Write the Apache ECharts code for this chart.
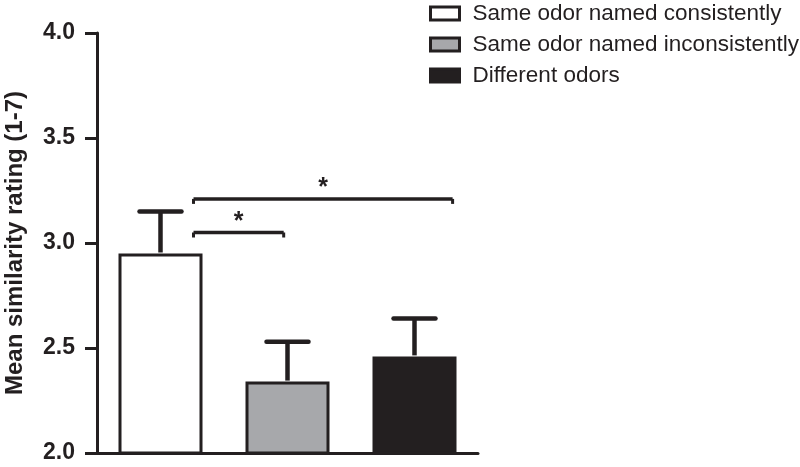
<!DOCTYPE html>
<html>
<head>
<meta charset="utf-8">
<script src="https://cdn.jsdelivr.net/npm/echarts@6/dist/echarts.min.js"></script>
<style>html,body{margin:0;padding:0;background:#fff}#c{width:800px;height:467px}</style>
</head>
<body>
<div id="c"></div>
<script>
// ---- data ----
const categories = ['Same odor named consistently', 'Same odor named inconsistently', 'Different odors'];
const meanValues = [2.95, 2.34, 2.46];
const errorUpper = [3.15, 2.53, 2.64];
const yTicks = [2.0, 2.5, 3.0, 3.5, 4.0];
const bracketFrom = [0, 0];
const bracketTo = [1, 2];
const bracketLevel = [3.05, 3.21];
const bracketLabel = ['*', '*'];

// ---- style ----
const ink = '#231f20';
const fills = ['#ffffff', '#a7a8ab', '#231f20'];
const endShift = [-0.03, 0.30]; // fraction of band width for bracket right end
const font = '"Liberation Sans", Arial, Helvetica, sans-serif';

const chart = echarts.init(document.getElementById('c'), null, {renderer: 'canvas'});

const barSeries = categories.map((name, i) => ({
  name: name,
  type: 'bar',
  barWidth: 84,
  barGap: '-100%',
  data: meanValues.map((v, j) => (j === i ? v : null)),
  itemStyle: {color: fills[i], borderColor: ink, borderWidth: 3},
  z: 2
}));

const errSeries = {
  type: 'custom',
  z: 3,
  data: meanValues.map((v, i) => [i, v, errorUpper[i]]),
  renderItem: function (params, api) {
    const base = api.coord([api.value(0), api.value(1)]);
    const top = api.coord([api.value(0), api.value(2)]);
    const cap = 42;
    return {
      type: 'group',
      children: [
        {type: 'line', shape: {x1: base[0], y1: base[1] - 1, x2: top[0], y2: top[1]}, style: {stroke: ink, lineWidth: 4.5}},
        {type: 'line', shape: {x1: top[0] - cap / 2, y1: top[1], x2: top[0] + cap / 2, y2: top[1]}, style: {stroke: ink, lineWidth: 4.5, lineCap: 'round'}}
      ]
    };
  }
};

const bracketSeries = {
  type: 'custom',
  z: 4,
  data: bracketLevel.map((lv, i) => [bracketFrom[i], bracketTo[i], lv]),
  renderItem: function (params, api) {
    const i = params.dataIndex;
    const band = api.size([1, 0])[0];
    const a = api.coord([api.value(0), api.value(2)]);
    const b = api.coord([api.value(1), api.value(2)]);
    const x1 = a[0] + 0.26 * band;
    const x2 = b[0] + endShift[i] * band;
    const y = a[1];
    return {
      type: 'group',
      children: [
        {type: 'line', shape: {x1: x1, y1: y, x2: x2, y2: y}, style: {stroke: ink, lineWidth: 3.5}},
        {type: 'line', shape: {x1: x1, y1: y, x2: x1, y2: y + 5}, style: {stroke: ink, lineWidth: 3}},
        {type: 'line', shape: {x1: x2, y1: y, x2: x2, y2: y + 5}, style: {stroke: ink, lineWidth: 3}},
        {type: 'text', style: {text: bracketLabel[i], x: (x1 + x2) / 2, y: y + 2, align: 'center', verticalAlign: 'bottom', fontSize: 25, fontWeight: 'bold', fontFamily: font, fill: ink}}
      ]
    };
  }
};

chart.setOption({
  animation: false,
  backgroundColor: '#fff',
  grid: {left: 97, right: 322, top: 33, bottom: 14, containLabel: false},
  legend: {
    orient: 'vertical',
    left: 424,
    top: -3,
    itemWidth: 29,
    itemHeight: 13,
    itemGap: 8,
    icon: 'rect',
    data: categories,
    itemStyle: {borderColor: ink, borderWidth: 3},
    textStyle: {fontFamily: font, fontSize: 22.5, color: ink, padding: [0, 0, 0, 8], lineHeight: 22}
  },
  xAxis: {
    type: 'category',
    data: categories,
    axisLine: {lineStyle: {color: ink, width: 3}},
    axisTick: {alignWithLabel: true, length: 10, lineStyle: {color: ink, width: 3}},
    axisLabel: {show: false},
    splitLine: {show: false}
  },
  yAxis: {
    type: 'value',
    min: yTicks[0],
    max: yTicks[yTicks.length - 1],
    interval: 0.5,
    name: 'Mean similarity rating (1-7)',
    nameLocation: 'middle',
    nameGap: 70,
    nameTextStyle: {fontFamily: font, fontSize: 24, fontWeight: 'bold', color: ink},
    axisLine: {show: true, lineStyle: {color: ink, width: 3}},
    axisTick: {show: true, length: 12, lineStyle: {color: ink, width: 3}},
    axisLabel: {
      fontFamily: font, fontSize: 23, fontWeight: 'bold', color: ink, margin: 22,
      formatter: v => v.toFixed(1)
    },
    splitLine: {show: false}
  },
  series: [...barSeries, errSeries, bracketSeries]
});
</script>
</body>
</html>
